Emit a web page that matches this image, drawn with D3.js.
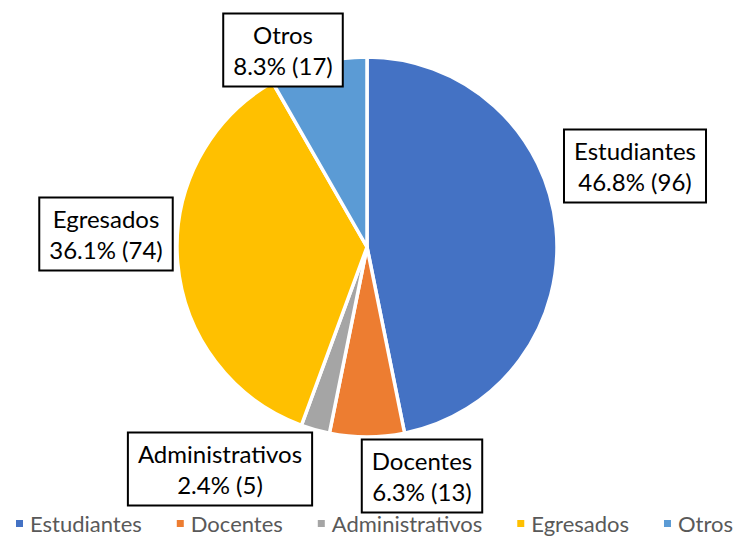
<!DOCTYPE html>
<html><head><meta charset="utf-8">
<script src="https://cdn.jsdelivr.net/npm/d3@7"></script>
<style>html,body{margin:0;padding:0;background:#fff;}svg{display:block;}</style>
</head><body>
<svg id="chart" width="734" height="536"></svg>
<script>
const categories = ["Estudiantes", "Docentes", "Administrativos", "Egresados", "Otros"];
const values = [96, 13, 5, 74, 17];
const percentLabels = ["46.8%", "6.3%", "2.4%", "36.1%", "8.3%"];
const colors = ["#4472C4", "#ED7D31", "#A5A5A5", "#FFC000", "#5B9BD5"];

// layout (label box centres relative to pie centre)
const labelOffsets = [[268, -81], [55, 229], [-147, 222], [-261, -13], [-84, -197]];

const W = 734, H = 536, cx = 367, cy = 247, R = 190;
const font = "Lato, 'Open Sans', sans-serif";
const svg = d3.select("#chart");

const pie = d3.pie().sort(null).value(d => d.v);
const data = categories.map((c, i) => ({c, v: values[i], p: percentLabels[i], col: colors[i], i}));
const arcs = pie(data);
const arc = d3.arc().innerRadius(0).outerRadius(R);

const g = svg.append("g").attr("transform", `translate(${cx},${cy})`);
g.selectAll("path").data(arcs).join("path")
  .attr("d", arc).attr("fill", d => d.data.col)
  .attr("stroke", "#fff").attr("stroke-width", 3.5).attr("stroke-linejoin", "round");

// labels
const lg = g.selectAll("g.lab").data(arcs).join("g").attr("class", "lab")
  .attr("transform", d => `translate(${labelOffsets[d.index][0]},${labelOffsets[d.index][1]})`);
const rects = lg.append("rect").attr("fill", "#fff").attr("stroke", "#000").attr("stroke-width", 2);
const t = lg.append("text").attr("text-anchor", "middle").attr("font-family", font)
  .attr("font-size", 24).attr("fill", "#000");
t.append("tspan").attr("x", 0).attr("y", -6).text(d => d.data.c);
t.append("tspan").attr("x", 0).attr("y", 25).text(d => `${d.data.p} (${d.data.v})`);
lg.each(function() {
  const tw = d3.select(this).select("text").node().getBBox().width;
  const w = tw + 20;
  d3.select(this).select("rect").attr("x", -w / 2).attr("y", -36.5).attr("width", w).attr("height", 73);
});

// legend
const leg = svg.append("g");
const items = leg.selectAll("g").data(data).join("g");
items.append("rect").attr("width", 7).attr("height", 7).attr("y", -4).attr("fill", d => d.col);
items.append("text").attr("x", 14).attr("y", 0).attr("dy", "0.35em").attr("font-family", font)
  .attr("font-size", 22).attr("fill", "#595959").text(d => d.c);
const widths = [];
items.each(function() { widths.push(this.getBBox().width); });
const startX = 16, endX = 733;
const gap = (endX - startX - d3.sum(widths)) / (widths.length - 1);
let x = startX; const xs = [];
widths.forEach(w => { xs.push(x); x += w + gap; });
items.attr("transform", (d, i) => `translate(${xs[i]},${524})`);
</script>
</body></html>
